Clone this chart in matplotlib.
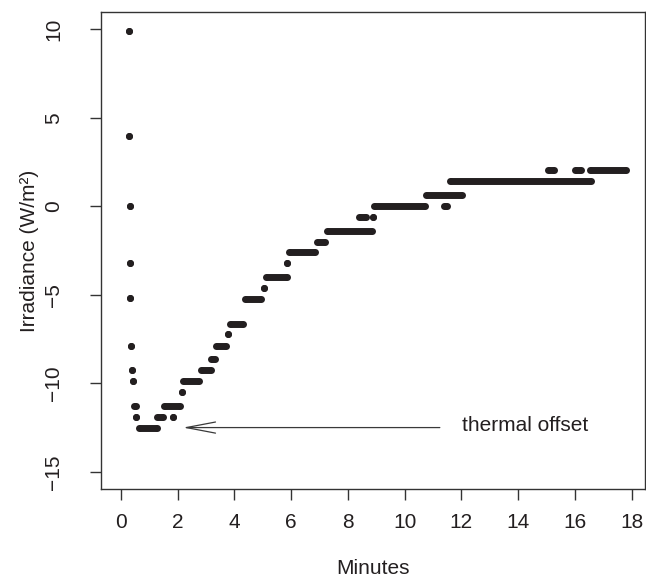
import matplotlib
matplotlib.use("Agg")
import matplotlib.pyplot as plt

plt.rcParams['font.family'] = ['Liberation Sans', 'DejaVu Sans']

# logged readings, grouped into runs of identical values:
# each run goes from run_start to run_end (minutes) at run_level (W/m^2)
run_start = [0.29, 0.30, 0.31, 0.32, 0.34, 0.35, 0.39, 0.42, 0.46, 0.55,
             0.63, 1.26, 1.52, 1.84, 2.14, 2.20, 2.84, 3.17, 3.37, 3.76,
             3.84, 4.37, 5.03, 5.13, 5.87, 5.92, 6.90, 7.26, 8.39, 8.89,
             8.93, 10.74, 11.40, 11.60, 15.04, 16.01, 16.53]
run_end = [0.29, 0.30, 0.31, 0.32, 0.34, 0.35, 0.39, 0.42, 0.53, 0.55,
           1.26, 1.47, 2.10, 1.84, 2.14, 2.76, 3.16, 3.32, 3.72, 3.76,
           4.31, 4.95, 5.03, 5.85, 5.87, 6.85, 7.20, 8.86, 8.63, 8.89,
           10.72, 12.03, 11.50, 16.58, 15.28, 16.21, 17.80]
run_level = [9.9, 4.0, 0.0, -3.2, -5.2, -7.9, -9.25, -9.85, -11.27, -11.88,
             -12.49, -11.88, -11.27, -11.88, -10.47, -9.85, -9.25, -8.64, -7.87, -7.23,
             -6.63, -5.22, -4.62, -4.01, -3.19, -2.60, -2.00, -1.40, -0.59, -0.59,
             0.00, 0.64, 0.00, 1.43, 2.03, 2.03, 2.03]

x_ticks = [0, 2, 4, 6, 8, 10, 12, 14, 16, 18]
y_ticks = [-15, -10, -5, 0, 5, 10]

ink = '#231f20'
dot = 5.0  # point diameter in pt

fig = plt.figure(figsize=(6.46, 5.79), dpi=100)
ax = fig.add_axes([0.1563, 0.1554, 0.8422, 0.8234])

for s, e, v in zip(run_start, run_end, run_level):
    ax.plot([s, e], [v, v], '-o', color=ink, lw=dot, ms=dot, mew=0,
            solid_capstyle='butt')

ax.annotate('', xy=(2.19, -12.49), xytext=(11.24, -12.49),
            arrowprops=dict(arrowstyle='->,head_length=2.1,head_width=0.4',
                            color='#3a3a3a', lw=0.9, mutation_scale=10,
                            shrinkA=0, shrinkB=0))
ax.text(12.02, -12.4, 'thermal offset', fontsize=15, color=ink,
        ha='left', va='center')

ax.set_xlim(-0.70, 18.47)
ax.set_ylim(-15.96, 10.96)
ax.set_xticks(x_ticks)
ax.set_yticks(y_ticks)
ax.set_yticklabels([str(t).replace('-', '\u2212') for t in y_ticks],
                   rotation=90, va='center')
ax.set_xticklabels([str(t) for t in x_ticks])

for sp in ax.spines.values():
    sp.set_color('#333333')
    sp.set_linewidth(1.0)
ax.tick_params(axis='both', direction='out', length=8, width=1.0,
               color='#333333', labelsize=15, labelcolor=ink)
ax.tick_params(axis='x', pad=9)
ax.tick_params(axis='y', pad=19)

ax.set_xlabel('Minutes', fontsize=15, color=ink, labelpad=20)
ax.set_ylabel('Irradiance (W/m\u00b2)', fontsize=15, color=ink, labelpad=4)

fig.savefig('out.png', dpi=100)
